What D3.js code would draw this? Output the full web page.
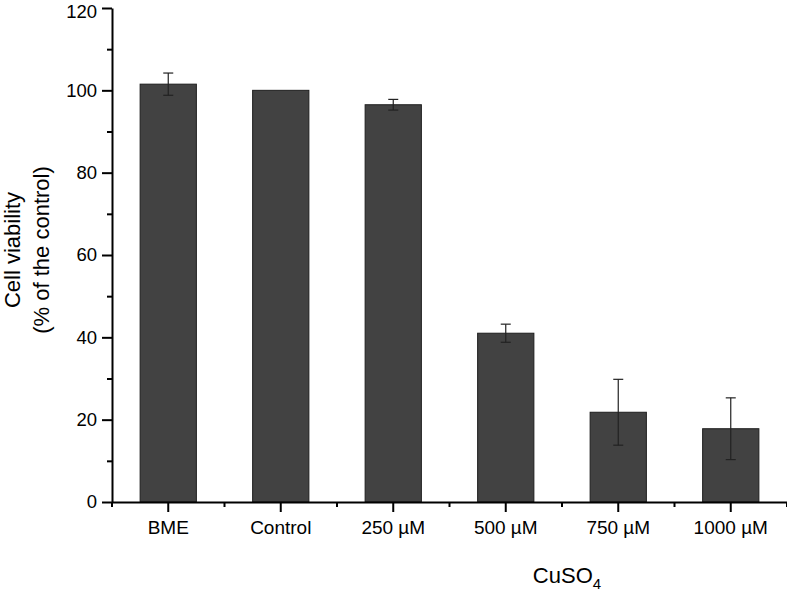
<!DOCTYPE html>
<html>
<head>
<meta charset="utf-8">
<script src="https://cdn.jsdelivr.net/npm/d3@7"></script>
<style>
  body { margin: 0; background: #fff; }
  text { font-family: "Liberation Sans", Arial, sans-serif; fill: #000; }
</style>
</head>
<body>
<div id="chart-area"></div>
<script>
// values
const categories = ["BME", "Control", "250 µM", "500 µM", "750 µM", "1000 µM"]
const viability = [101.5, 100, 96.5, 41, 21.8, 17.8]
const errors = [2.7, 0, 1.3, 2.2, 8, 7.5]
const yTicks = [0, 20, 40, 60, 80, 100, 120]
const yMinorTicks = [10, 30, 50, 70, 90, 110]

const WIDTH = 787
const HEIGHT = 592
const PLOT = { LEFT: 112, RIGHT: 787, TOP: 8, BOTTOM: 502 }

const rows = categories.map((c, i) => ({ cat: c, val: viability[i], err: errors[i] }))

const svg = d3.select("#chart-area")
  .append("svg")
  .attr("width", WIDTH)
  .attr("height", HEIGHT)

const x = d3.scaleBand()
  .domain(categories)
  .range([PLOT.LEFT, PLOT.RIGHT])
  .paddingInner(0.5)
  .paddingOuter(0.25)

const y = d3.scaleLinear()
  .domain([0, 120])
  .range([PLOT.BOTTOM, PLOT.TOP])

// bars
svg.append("g").selectAll("rect")
  .data(rows)
  .enter().append("rect")
  .attr("x", d => x(d.cat))
  .attr("y", d => y(d.val))
  .attr("width", x.bandwidth())
  .attr("height", d => y(0) - y(d.val))
  .attr("fill", "#424242")
  .attr("stroke", "#1e1e1e")
  .attr("stroke-width", 1)

// error bars
const errG = svg.append("g")
  .attr("stroke", "#222")
  .attr("stroke-width", 1.2)
rows.filter(d => d.err > 0).forEach(d => {
  const cx = x(d.cat) + x.bandwidth() / 2
  errG.append("line")
    .attr("x1", cx).attr("x2", cx)
    .attr("y1", y(d.val + d.err)).attr("y2", y(d.val - d.err))
  ;[d.val + d.err, d.val - d.err].forEach(v => {
    errG.append("line")
      .attr("x1", cx - 5).attr("x2", cx + 5)
      .attr("y1", y(v)).attr("y2", y(v))
  })
})

// y axis
const yAxis = svg.append("g")
  .attr("transform", `translate(${PLOT.LEFT},0)`)
  .call(d3.axisLeft(y).tickValues(yTicks).tickSize(10).tickPadding(5).tickSizeOuter(0))
yAxis.selectAll("text").style("font-size", "18.5px")
// top label sits at the very edge, nudge it down a little
yAxis.selectAll("text").filter(d => d === 120).attr("dy", "0.5em")
yAxis.selectAll("line").attr("stroke-width", 2)
yAxis.select(".domain").attr("stroke-width", 2)

svg.append("g")
  .attr("transform", `translate(${PLOT.LEFT},0)`)
  .call(d3.axisLeft(y).tickValues(yMinorTicks).tickSize(5).tickFormat("").tickSizeOuter(0))
  .call(g => g.select(".domain").remove())
  .selectAll("line").attr("stroke-width", 2)

// x axis
const xAxis = svg.append("g")
  .attr("transform", `translate(0,${PLOT.BOTTOM})`)
  .call(d3.axisBottom(x).tickSize(10).tickPadding(9).tickSizeOuter(0))
xAxis.selectAll("text").style("font-size", "19px")
xAxis.selectAll("line").attr("stroke-width", 2)
xAxis.select(".domain").attr("stroke-width", 2)

// minor ticks at band edges
const edges = [PLOT.LEFT].concat(categories.map(c => x(c) + x.bandwidth() + x.step() * x.paddingInner() / 2))
svg.append("g").selectAll("line")
  .data(edges)
  .enter().append("line")
  .attr("x1", d => d).attr("x2", d => d)
  .attr("y1", PLOT.BOTTOM).attr("y2", PLOT.BOTTOM + 5)
  .attr("stroke", "#000")
  .attr("stroke-width", 2)

// axis titles
const xTitle = svg.append("text")
  .attr("x", 567)
  .attr("y", 583)
  .attr("text-anchor", "middle")
  .style("font-size", "22px")
xTitle.append("tspan").text("CuSO")
xTitle.append("tspan").attr("dy", 6).style("font-size", "15px").text("4")

const yTitle = svg.append("text")
  .attr("transform", "translate(20,250) rotate(-90)")
  .attr("text-anchor", "middle")
  .style("font-size", "22px")
yTitle.append("tspan").attr("x", 0).attr("y", 0).text("Cell viability")
yTitle.append("tspan").attr("x", 0).attr("y", 29).text("(% of the control)")
</script>
</body>
</html>
